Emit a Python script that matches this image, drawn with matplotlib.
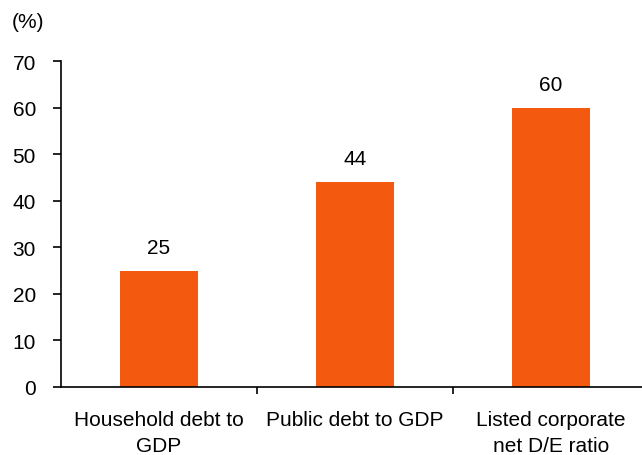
import matplotlib.pyplot as plt

plt.rcParams["font.family"] = ["Liberation Sans", "DejaVu Sans"]

#data
categories = ["Household debt to\nGDP", "Public debt to GDP", "Listed corporate\nnet D/E ratio"]
values = [25, 44, 60]
yticks = [0, 10, 20, 30, 40, 50, 60, 70]

bar_color = "#F35A0F"
fs = 15

fig = plt.figure(figsize=(6.42, 4.56), dpi=100)
ax = fig.add_axes([61 / 642, 68 / 456, 588 / 642, 326 / 456])

x = list(range(len(categories)))
ax.bar(x, values, width=0.4, color=bar_color)

for xi, v in zip(x, values):
    ax.text(xi, v + 3.0, f"{v}", ha="center", va="bottom", fontsize=fs)

ax.set_xlim(-0.5, len(categories) - 0.5)
ax.set_ylim(0, 70)
ax.set_yticks(yticks)
ax.tick_params(axis="y", labelsize=fs, length=6, width=1.2, direction="out", pad=12)

#category labels centered, ticks at boundaries
ax.set_xticks([0.5, 1.5])
ax.set_xticklabels([])
ax.tick_params(axis="x", length=5, width=1.2, direction="out")
for xi, lab in zip(x, categories):
    ax.text(xi, -5.0, lab, ha="center", va="top", fontsize=fs, linespacing=1.45)

ax.spines["top"].set_visible(False)
ax.spines["right"].set_visible(False)
ax.spines["left"].set_linewidth(1.2)
ax.spines["bottom"].set_linewidth(1.2)

fig.text(12 / 642, 1 - 22 / 456, "(%)", ha="left", va="center", fontsize=fs)

plt.savefig("out.png", dpi=100)
